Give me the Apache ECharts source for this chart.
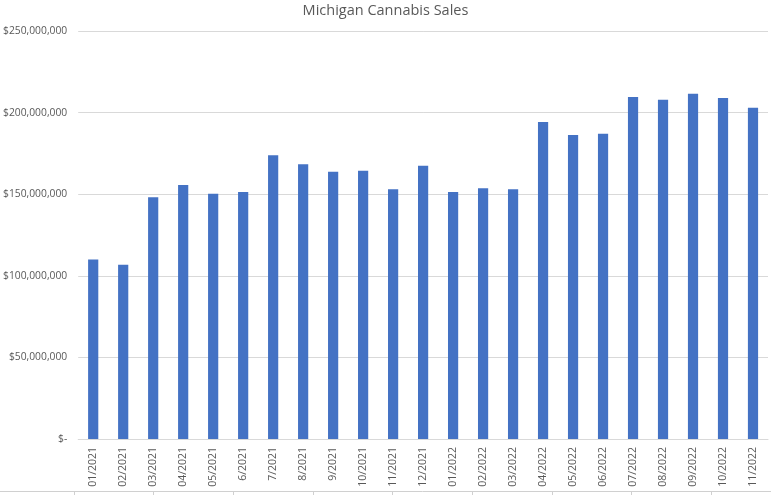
<!DOCTYPE html>
<html>
<head>
<meta charset="utf-8">
<script src="https://cdn.jsdelivr.net/npm/echarts@6/dist/echarts.min.js"></script>
<style>html,body{margin:0;padding:0;background:#fff}#c{width:771px;height:495px}</style>
</head>
<body>
<div id="c"></div>
<script>
const chartTitle = 'Michigan Cannabis Sales';
const categories = ['01/2021','02/2021','03/2021','04/2021','05/2021','6/2021','7/2021','8/2021','9/2021','10/2021','11/2021','12/2021','01/2022','02/2022','03/2022','04/2022','05/2022','06/2022','07/2022','08/2022','09/2022','10/2022','11/2022'];
const sales = [110000000,106700000,148200000,155700000,150200000,151300000,173900000,168400000,163700000,164300000,153100000,167400000,151300000,153700000,153100000,194300000,186300000,187000000,209600000,207800000,211500000,209000000,202900000];
const yTicks = [0,50000000,100000000,150000000,200000000,250000000];
// faint cell borders of the sheet row below the chart (column units)
const lowerBandColumns = [0, 8.75];

const font = '"Open Sans", "Liberation Sans", sans-serif';
function fmt(v){ return v === 0 ? '$-' : '$' + v.toLocaleString('en-US'); }

const chart = echarts.init(document.getElementById('c'), null, {renderer:'canvas'});
chart.setOption({
  animation:false,
  backgroundColor:'#ffffff',
  title:{text:chartTitle,left:'center',top:-2,textStyle:{fontFamily:font,fontSize:14.5,fontWeight:'normal',color:'#595959'}},
  grid:[
    {left:78,right:3,top:31,bottom:56},
    {left:74,right:0,top:491,height:4},
    {left:0,width:74,top:491,height:4}
  ],
  xAxis:[
    {type:'category',data:categories,gridIndex:0,
     axisLine:{lineStyle:{color:'#d9d9d9'}},axisTick:{show:false},
     axisLabel:{rotate:90,interval:0,fontFamily:font,fontSize:10.5,color:'#595959',margin:8}},
    {type:'value',gridIndex:1,position:'top',min:lowerBandColumns[0],max:lowerBandColumns[1],interval:1,
     axisLine:{show:true,onZero:false,lineStyle:{color:'#d0d0d0'}},
     axisTick:{show:true,inside:true,length:5,lineStyle:{color:'#d0d0d0'}},
     axisLabel:{show:false},splitLine:{show:false}},
    {type:'category',gridIndex:2,position:'top',data:[''],
     axisLine:{show:true,onZero:false,lineStyle:{color:'#d0d0d0'}},
     axisTick:{show:false},axisLabel:{show:false}}
  ],
  yAxis:[
    {type:'value',gridIndex:0,min:yTicks[0],max:yTicks[yTicks.length-1],interval:50000000,
     axisLine:{show:false},axisTick:{show:false},
     splitLine:{lineStyle:{color:'#d9d9d9'}},
     axisLabel:{formatter:fmt,fontFamily:font,fontSize:10.3,color:'#595959',margin:11}},
    {type:'value',gridIndex:1,min:0,max:1,show:false},
    {type:'value',gridIndex:2,min:0,max:1,show:false}
  ],
  series:[
    {type:'bar',data:sales,xAxisIndex:0,yAxisIndex:0,barWidth:'34%',itemStyle:{color:'#4472C4'}}
  ]
});
</script>
</body>
</html>
